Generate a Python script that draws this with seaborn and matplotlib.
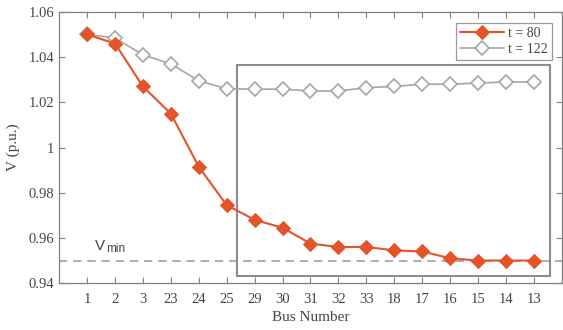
import matplotlib
matplotlib.use("Agg")
import matplotlib.pyplot as plt
import seaborn as sns
import pandas as pd
from matplotlib.patches import Rectangle

buses = ["1", "2", "3", "23", "24", "25", "29", "30", "31", "32", "33",
         "18", "17", "16", "15", "14", "13"]
v_t80 = [1.050, 1.046, 1.027, 1.015, 0.9915, 0.9745, 0.968, 0.9645, 0.9575,
         0.956, 0.956, 0.9545, 0.954, 0.951, 0.950, 0.950, 0.950]
v_t122 = [1.050, 1.0485, 1.041, 1.037, 1.0295, 1.026, 1.0258, 1.0258, 1.025,
          1.025, 1.0265, 1.027, 1.028, 1.028, 1.0285, 1.029, 1.029]
v_min = 0.95
y_ticks = [0.94, 0.96, 0.98, 1.00, 1.02, 1.04, 1.06]
y_ticklabels = ["0.94", "0.96", "0.98", "1", "1.02", "1.04", "1.06"]

sns.set_style("white")
plt.rcParams["font.family"] = ["Liberation Serif", "DejaVu Serif"]
text_col = "#454545"

df = pd.DataFrame({"bus": buses * 2,
                   "V": v_t80 + v_t122,
                   "series": ["t = 80"] * len(buses) + ["t = 122"] * len(buses)})

fig = plt.figure(figsize=(5.63, 3.30), dpi=100)
ax = fig.add_axes([0.105, 0.142, 0.893, 0.822])

orange = "#E4532A"
gray = "#A6A6A6"

sns.lineplot(data=df[df.series == "t = 80"], x="bus", y="V", sort=False, ax=ax,
             color=orange, lw=1.5, marker="D", markersize=7,
             markerfacecolor=orange, markeredgecolor=orange, label="t = 80", zorder=4)
sns.lineplot(data=df[df.series == "t = 122"], x="bus", y="V", sort=False, ax=ax,
             color=gray, lw=1.2, marker="D", markersize=7,
             markerfacecolor="white", markeredgecolor=gray, markeredgewidth=1.2,
             label="t = 122", zorder=3)

# lower voltage limit
ax.axhline(v_min, color="#A0A0A0", lw=1.2, ls=(0, (5, 3.5)), zorder=1)
ax.text(0.3, 0.9535, "V", fontsize=11, color=text_col,
        family=["Liberation Sans", "DejaVu Sans"], va="bottom")
ax.text(0.68, 0.9523, "min", fontsize=8.5, color=text_col,
        family=["Liberation Sans", "DejaVu Sans"], va="bottom")

# highlighted region
ax.add_patch(Rectangle((5.38, 0.9432), 11.2, 0.0933, fill=False,
                       edgecolor="#8C8C8C", lw=1.5, zorder=2))

ax.set_xlim(-1, 17)
ax.set_ylim(0.94, 1.06)
ax.set_yticks(y_ticks)
ax.set_yticklabels(y_ticklabels)
ax.set_xlabel("Bus Number", fontsize=11, color=text_col, labelpad=4)
ax.set_ylabel("V (p.u.)", fontsize=11, color=text_col, labelpad=6)

for s in ax.spines.values():
    s.set_color("#808080")
    s.set_linewidth(0.9)
ax.tick_params(direction="in", length=4, width=0.8, color="#808080",
               labelcolor=text_col, labelsize=10.5, top=True, right=True,
               bottom=True, left=True)
ax.tick_params(axis="x", pad=7)

leg = ax.legend(loc="upper right", bbox_to_anchor=(0.995, 0.985), fontsize=10,
                frameon=True, fancybox=False, handlelength=3.2,
                borderpad=0.3, labelspacing=0.2, handletextpad=0.3)
leg.get_frame().set_edgecolor("#808080")
leg.get_frame().set_linewidth(0.9)
for t in leg.get_texts():
    t.set_color(text_col)

fig.savefig("out.png", dpi=100)
